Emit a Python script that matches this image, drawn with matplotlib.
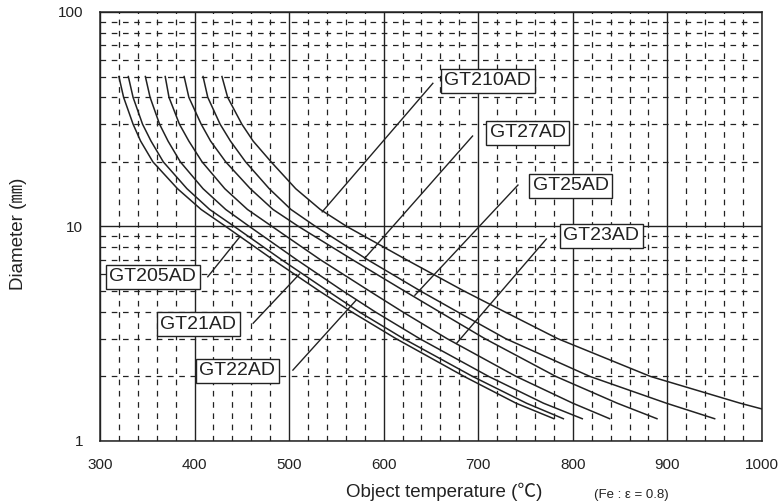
import matplotlib

matplotlib.use("Agg")
import matplotlib.pyplot as plt
from matplotlib.ticker import FixedLocator, NullFormatter

plt.rcParams["font.family"] = ["Liberation Sans", "Noto Sans CJK JP", "DejaVu Sans"]

INK = "#222222"

d_levels = [50, 40, 30, 25, 20, 15, 12, 10, 7, 5, 4, 3, 2, 1.5, 1.27]
d_levels_gt210 = [50, 40, 30, 25, 20, 15, 12, 10, 7, 5, 4, 3, 2, 1.5, 1.41]

# object temperature (degC) of each model at those diameters
t_gt205 = [320, 325, 335, 343, 356, 382, 407, 433, 483, 532, 566, 613, 685, 740, 780]
t_gt21 = [330, 335, 345, 354, 367, 392, 416, 442, 492, 541, 574, 621, 694, 751, 790]
t_gt22 = [348, 353, 363, 372, 385, 409, 433, 458, 508, 557, 591, 638, 711, 769, 810]
t_gt23 = [369, 373, 384, 394, 408, 432, 456, 482, 533, 585, 620, 667, 740, 800, 839]
t_gt25 = [389, 394, 407, 417, 433, 459, 483, 510, 567, 622, 659, 707, 782, 847, 889]
t_gt27 = [409, 414, 427, 438, 454, 479, 502, 528, 583, 639, 678, 729, 818, 899, 950]
t_gt210 = [429, 435, 450, 462, 481, 507, 533, 561, 624, 685, 728, 784, 882, 977, 1000]

labels = ["GT205AD", "GT21AD", "GT22AD", "GT23AD", "GT25AD", "GT27AD", "GT210AD"]
label_text_pos = [(356, 5.82), (404, 3.50), (445, 2.12), (830, 9.06),
                  (798, 15.5), (752.6, 27.3), (710, 47.7)]
leader_from = [(414, 5.83), (462, 3.54), (504, 2.14), (772, 8.74),
               (742, 15.6), (694, 26.4), (652, 46.5)]
leader_to = [(448, 8.96), (511, 6.0), (571, 4.54), (677, 2.85),
             (633, 4.78), (580, 7.11), (535, 11.7)]

x_ticks = [300, 400, 500, 600, 700, 800, 900, 1000]
y_ticks = [1, 10, 100]


def main():
    fig = plt.figure(figsize=(7.81, 5.03), dpi=100)
    ax = fig.add_axes([0.128, 0.1233, 0.8476, 0.8529])

    curves = [t_gt205, t_gt21, t_gt22, t_gt23, t_gt25, t_gt27]
    for temps in curves:
        ax.plot(temps, d_levels, color=INK, lw=1.1, zorder=3)
    ax.plot(t_gt210, d_levels_gt210, color=INK, lw=1.1, zorder=3)

    ax.set_yscale("log")
    ax.set_xlim(300, 1000)
    ax.set_ylim(1, 100)

    ax.set_xticks(x_ticks)
    ax.xaxis.set_minor_locator(FixedLocator([v for v in range(320, 1000, 20) if v % 100]))
    ax.set_yticks(y_ticks)
    ax.set_yticklabels([str(v) for v in y_ticks])
    ax.yaxis.set_minor_formatter(NullFormatter())

    ax.grid(True, which="major", color=INK, lw=1.0, ls="-")
    ax.grid(True, which="minor", color=INK, lw=0.9, ls=(0, (4.5, 4.5)))
    ax.tick_params(which="both", length=0, labelsize=11, colors=INK, pad=12)
    for spine in ax.spines.values():
        spine.set_color(INK)
        spine.set_linewidth(1.1)

    for name, tpos, p0, p1 in zip(labels, label_text_pos, leader_from, leader_to):
        ax.plot([p0[0], p1[0]], [p0[1], p1[1]], color=INK, lw=1.0, zorder=4)
        ax.text(tpos[0], tpos[1], name, ha="center", va="center", fontsize=14,
                color=INK, zorder=5,
                bbox=dict(boxstyle="square,pad=0.18", fc="white", ec=INK, lw=1.0))

    fig.text(0.5685, 0.022, "Object temperature (\u2103)", ha="center", va="center",
             fontsize=13.5, color=INK)
    fig.text(0.808, 0.016, "(Fe : \u03b5 = 0.8)", ha="center", va="center",
             fontsize=9.5, color=INK)
    fig.text(0.024, 0.535, "Diameter (\u339c)", ha="center", va="center",
             rotation=90, fontsize=13.5, color=INK)

    fig.savefig("out.png", dpi=100)
    plt.close(fig)


if __name__ == "__main__":
    main()
